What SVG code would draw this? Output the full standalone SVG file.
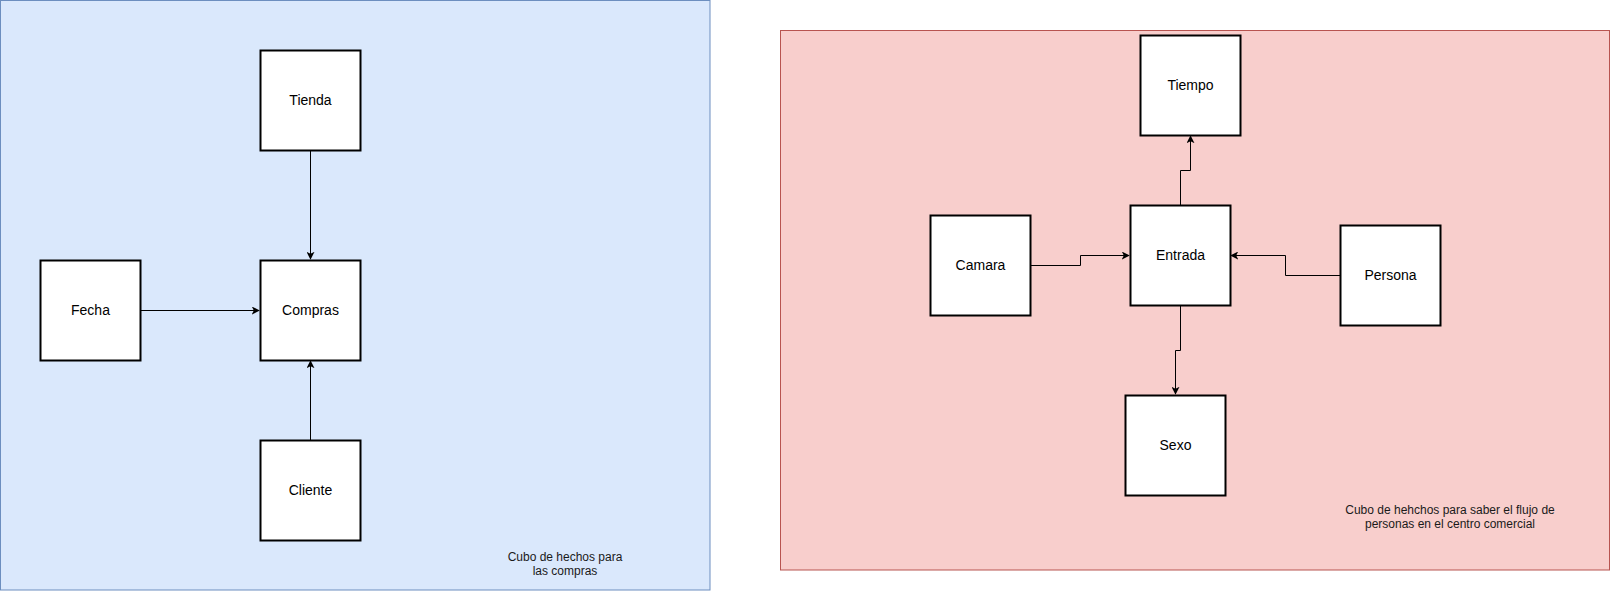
<svg xmlns="http://www.w3.org/2000/svg" width="1611" height="591" viewBox="0 0 1611 591">
<defs>
<marker id="arr" viewBox="0 0 10 10" refX="9" refY="5" markerWidth="8" markerHeight="8" markerUnits="userSpaceOnUse" orient="auto">
<path d="M0,0 L10,5 L0,10 L2.5,5 Z" fill="#000"/>
</marker>
</defs>
<style>
.node rect{fill:#ffffff;stroke:#000;stroke-width:2}
.node text{font-family:"Liberation Sans",Arial,sans-serif;font-size:14px;fill:#000;text-anchor:middle}
.note{font-family:"Liberation Sans",Arial,sans-serif;font-size:12px;fill:#1a1a1a;text-anchor:middle}
.conn path{fill:none;stroke:#000;stroke-width:1;marker-end:url(#arr)}
</style>
<rect width="1611" height="591" fill="#ffffff"/>
<g id="panel-compras">
<rect x="0.5" y="0.5" width="709.5" height="589.5" fill="#dae8fc" stroke="#6c8ebf" stroke-width="1"/>
<text class="note" x="565" y="561">Cubo de hechos para</text>
<text class="note" x="565" y="575">las compras</text>
</g>
<g id="panel-entrada">
<rect x="780.5" y="30.5" width="829" height="539.5" fill="#f8cecc" stroke="#b85450" stroke-width="1"/>
<text class="note" x="1450" y="514">Cubo de hehchos para saber el flujo de</text>
<text class="note" x="1450" y="528">personas en el centro comercial</text>
</g>
<g class="conn" id="connectors">
<path d="M310.5,150 V259"/>
<path d="M140,310.5 H259"/>
<path d="M310.5,440 V361"/>
<path d="M1030,265.5 H1080.5 V255.5 H1129"/>
<path d="M1180.5,205 V170.5 H1190.5 V136"/>
<path d="M1180.5,305 V350.5 H1175.5 V394"/>
<path d="M1340,275.5 H1285.5 V255.5 H1231"/>
</g>
<g class="node" id="tienda"><rect x="260.5" y="50.5" width="100" height="100"/><text x="310.5" y="105">Tienda</text></g>
<g class="node" id="fecha"><rect x="40.5" y="260.5" width="100" height="100"/><text x="90.5" y="315">Fecha</text></g>
<g class="node" id="compras"><rect x="260.5" y="260.5" width="100" height="100"/><text x="310.5" y="315">Compras</text></g>
<g class="node" id="cliente"><rect x="260.5" y="440.5" width="100" height="100"/><text x="310.5" y="495">Cliente</text></g>
<g class="node" id="tiempo"><rect x="1140.5" y="35.5" width="100" height="100"/><text x="1190.5" y="90">Tiempo</text></g>
<g class="node" id="camara"><rect x="930.5" y="215.5" width="100" height="100"/><text x="980.5" y="270">Camara</text></g>
<g class="node" id="entrada"><rect x="1130.5" y="205.5" width="100" height="100"/><text x="1180.5" y="260">Entrada</text></g>
<g class="node" id="persona"><rect x="1340.5" y="225.5" width="100" height="100"/><text x="1390.5" y="280">Persona</text></g>
<g class="node" id="sexo"><rect x="1125.5" y="395.5" width="100" height="100"/><text x="1175.5" y="450">Sexo</text></g>
</svg>
